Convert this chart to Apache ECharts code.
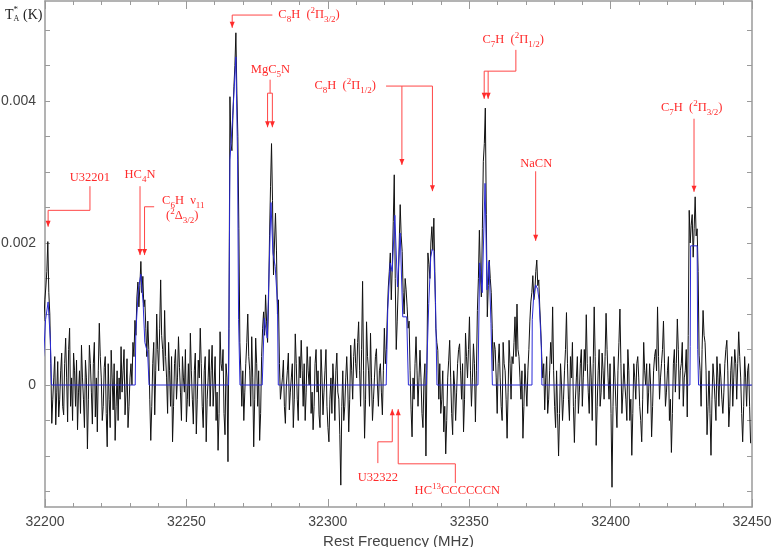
<!DOCTYPE html>
<html><head><meta charset="utf-8">
<script src="https://cdn.jsdelivr.net/npm/echarts@6/dist/echarts.min.js"></script>
<style>html,body{margin:0;padding:0;background:#fff}#c{width:772px;height:547px}</style>
</head><body><div id="c"></div>
<script>
// ---- channel axis (MHz) ----
const FREQ_START = 32199.6;
const FREQ_STEP = 0.35;
// ---- observed antenna temperature, mK, one value per channel ----
const TA_mK = [
 0.9,1.2,1.38,1.6,2.02,1.3,1.0,0.3,-0.54,-0.2,0.1,0.4,-0.56,-0.1,0.33,-0.45,-0.2,0.2,0.45,-0.3,
 -0.42,0.3,0.66,0.1,-0.52,0.5,0.8,-0.3,0.1,-0.5,0.45,0.2,-0.3,0.35,-0.63,-0.1,0.2,-0.4,0.56,0.1,
 -0.2,-0.6,0.35,0.1,-0.9,-0.2,0.56,0.3,-0.1,-0.55,0.3,0.6,-0.45,0.1,-0.66,0.2,0.87,0.4,0.1,-0.5,
 -0.3,0.25,0.4,-0.4,-0.87,0.3,-0.2,-0.6,0.49,0.1,-0.35,0.3,-0.78,-0.3,0.2,-0.5,0.1,-0.2,0.54,-0.1,
 0.2,0.5,-0.42,-0.1,0.37,-0.6,-0.3,0.1,0.3,0.0,0.6,0.4,0.91,0.7,1.24,1.45,1.1,1.4,1.74,1.3,
 1.53,1.1,1.2,0.8,0.4,0.9,0.5,-0.2,-0.78,-0.3,0.3,0.6,-0.42,0.2,1.0,0.5,0.2,0.8,1.48,0.7,
 0.5,0.2,1.05,0.4,0.1,-0.4,0.6,0.2,-0.3,0.4,-0.8,-0.3,0.3,0.5,-0.2,0.1,0.68,0.25,-0.1,-0.5,
 0.4,0.1,-0.1,0.5,-0.52,-0.2,0.3,-0.3,0.73,0.2,-0.2,-0.55,0.2,0.45,-0.69,-0.2,0.35,0.1,0.8,0.3,
 -0.3,-0.6,0.2,0.4,-0.8,-0.2,0.1,0.5,-0.3,0.2,0.56,-0.3,0.0,0.4,-0.5,-0.1,-0.92,-0.4,0.75,0.3,
 0.2,0.5,-0.4,-0.7,0.3,0.1,-1.08,0.8,4.06,3.4,3.3,3.8,4.2,4.5,4.96,4.1,3.5,2.2,0.6,0.2,
 -0.3,0.2,-0.5,-0.1,0.3,0.6,1.0,0.4,0.2,-0.3,0.68,0.1,-0.87,-0.2,0.66,0.3,-0.3,0.2,-0.78,-0.4,
 0.4,0.8,1.03,0.7,1.27,0.9,0.6,1.2,2.1,2.8,3.4,2.6,1.55,2.0,2.42,1.9,1.0,1.2,0.3,-0.2,
 -0.2,0.1,0.35,-0.3,-0.54,0.0,0.2,0.45,-0.35,-0.1,0.1,0.3,-0.6,-0.2,0.72,0.3,-0.2,-0.5,0.4,0.1,
 0.63,0.2,-0.3,0.3,-0.5,-0.1,0.54,0.2,0.0,0.4,-0.4,-0.1,-0.63,-0.3,0.3,0.5,-0.1,0.2,-0.42,-0.6,
 0.5,0.1,-0.42,-0.1,0.2,0.5,-0.3,-0.6,-0.8,-0.2,0.1,-0.4,0.3,0.0,-0.5,0.2,0.45,-0.1,-0.2,-0.7,
 -1.41,-0.3,0.2,-0.5,-0.3,0.1,0.4,0.0,-0.66,-0.2,0.56,0.2,-0.2,0.4,0.65,0.3,0.1,0.6,0.89,0.2,
 -0.3,0.5,1.46,0.2,-0.75,-0.2,0.89,0.4,0.2,-0.3,0.73,0.1,-0.5,-0.2,0.1,0.4,0.51,0.0,-0.3,0.2,
 0.3,-0.1,-0.42,0.2,0.8,0.3,0.5,1.0,1.38,1.6,1.86,1.2,1.67,2.3,2.96,1.5,0.5,0.9,1.38,2.0,
 2.54,2.1,1.88,1.3,1.0,1.5,1.34,1.1,0.8,0.9,0.2,-0.35,-0.73,0.1,-0.2,0.3,0.68,0.2,-0.3,0.1,
 0.49,0.1,-0.4,-0.6,0.07,0.3,-1.0,0.2,1.86,1.7,1.5,2.0,2.23,1.9,2.35,1.6,0.8,0.6,0.49,-0.2,
 0.3,-0.4,-0.2,0.2,-0.66,-0.3,-0.97,-0.5,0.1,0.35,0.63,0.1,-0.4,-0.7,0.2,0.0,-0.5,-0.1,0.3,0.5,
 0.58,0.2,-0.2,0.3,-0.66,-0.2,0.73,0.4,0.1,0.5,0.96,0.2,-0.3,0.1,0.58,0.3,-0.52,0.2,1.05,1.5,
 2.18,1.6,1.24,2.2,3.15,3.4,3.9,2.4,0.96,1.4,1.76,1.5,1.3,0.8,0.2,0.6,0.5,0.1,-0.4,0.3,
 0.58,0.1,-0.3,-0.5,0.6,0.3,0.2,-0.2,-0.75,-0.1,0.63,0.3,-0.2,0.4,0.3,0.6,0.96,0.4,1.14,0.5,
 0.4,0.1,-0.2,0.2,-0.75,-0.3,0.3,0.0,-0.3,0.2,0.5,0.9,1.17,1.3,1.54,1.2,1.3,1.6,1.76,1.4,
 1.48,1.1,0.8,0.4,0.1,0.3,-0.35,0.1,0.4,-0.4,-0.2,0.2,0.6,0.3,1.1,0.2,-0.3,-0.6,0.2,-0.4,
 -1.0,-0.4,0.3,0.0,-0.5,-0.2,0.2,0.5,1.02,0.3,-0.2,-0.5,0.4,0.1,0.6,-0.3,-0.81,-0.2,0.1,0.4,
 -0.4,-0.1,0.3,0.5,-0.3,0.1,0.5,0.2,0.99,0.3,-0.1,-0.4,0.4,0.1,-0.5,0.3,1.1,0.4,-0.85,-0.3,
 0.2,0.5,-0.3,-0.1,0.45,0.2,-0.2,0.4,1.01,0.5,0.1,-0.2,0.3,-0.4,-1.44,-0.3,0.4,0.1,-0.3,-0.6,
 0.2,0.6,1.07,0.3,-0.4,-0.1,0.3,0.0,-0.2,-0.5,0.5,0.2,-0.5,-0.2,-0.99,-0.4,0.3,0.1,-0.2,0.3,
 0.4,0.1,-0.3,-0.5,-0.8,-0.2,0.6,0.2,0.0,0.3,-0.4,-0.1,0.3,0.0,-0.73,-0.3,0.2,0.4,0.5,0.2,
 1.1,0.4,-0.2,0.1,0.3,0.5,0.9,0.3,-0.3,-0.1,0.2,0.4,-0.5,-0.2,-0.95,-0.4,0.3,0.5,-0.1,0.3,
 0.93,0.5,-0.2,0.2,0.3,0.6,-0.3,0.1,0.2,0.5,-0.45,0.7,2.46,2.0,2.25,2.4,1.8,2.2,2.65,2.1,
 2.2,1.6,0.42,0.2,-0.3,0.5,1.05,0.7,0.6,0.2,-0.7,-0.3,0.2,-0.4,-0.99,-0.2,0.3,0.1,-0.2,-0.5,
 0.4,0.1,-0.3,0.3,0.1,-0.2,-0.4,-0.1,0.3,0.5,0.63,0.2,-0.59,-0.3,0.2,0.4,-0.3,0.1,0.5,0.3,
 -0.2,0.3,0.75,0.4,0.1,-0.4,-0.8,-0.3,0.4,0.1,-0.3,0.2,0.3,-0.3,-0.82
];
// ---- fitted model (blue), [MHz, mK] ----
const MODEL_mK = [
 [32199.5,0.4],[32200.2,0.92],[32201.1,1.17],[32201.9,0.63],[32202.3,0],
 [32231.9,0],[32232.1,0.73],[32233.0,1.34],[32233.9,1.56],[32234.7,1.15],[32235.3,0.6],[32236.3,0.45],[32236.8,0],
 [32264.9,0],[32265.4,3.17],[32266.3,3.73],[32267.5,4.62],[32268.1,3.17],[32268.45,0.92],[32268.95,0],
 [32276.8,0],[32277.55,0.94],[32278.6,0.66],[32279.9,2.57],[32280.6,1.86],[32281.4,1.67],[32282.2,1.15],[32282.5,0],
 [32320.65,0],[32321.2,1.06],[32322.06,1.72],[32322.77,1.6],[32323.7,2.39],[32324.65,1.38],[32325.6,2.14],[32326.5,0.96],[32327.9,0.96],[32328.5,0],
 [32334.8,0],[32335.7,1.15],[32336.4,1.8],[32336.9,1.91],[32337.5,1.88],[32338.1,1.15],[32338.6,0],
 [32353.1,0],[32353.7,1.72],[32354.6,1.3],[32355.6,2.84],[32356.3,1.34],[32357.0,1.74],[32357.7,0.87],[32358.2,0],
 [32372.2,0],[32372.3,0.92],[32372.8,1.25],[32373.5,1.41],[32374.2,1.35],[32374.7,1.2],[32375.5,0.54],[32375.7,0],
 [32428.05,0],[32428.15,0.54],[32428.3,1.96],[32430.6,1.96],[32430.8,0.5],[32431.1,0],
 [32450,0]
];
// ---- axes ----
const X_MIN = 32200, X_MAX = 32450, X_STEP = 50;
const Y_MIN = -0.001718, Y_MAX = 0.005408;
const Y_TICKS = [-0.0015,-0.001,-0.0005,0,0.0005,0.001,0.0015,0.002,0.0025,0.003,0.0035,0.004,0.0045,0.005];
const Y_LABELS = [0, 0.002, 0.004];
// ---- line identifications: label anchor and arrow paths in [MHz, mK] ----
const ANNOTATIONS = [
 {text:'C{s|8}H  ({p|2}Π{s|3/2})', at:[32282.5,5.21], align:'left',
  paths:[[[32280.4,5.21],[32266.2,5.21],[32266.2,5.03]]], tips:[[32266.2,5.03,'down']]},
 {text:'MgC{s|5}N', at:[32279.7,4.44], align:'center',
  paths:[[[32279.6,4.30],[32279.6,4.11]],[[32278.7,3.63],[32278.7,4.11],[32280.4,4.11],[32280.4,3.63]]],
  tips:[[32278.7,3.63,'down'],[32280.4,3.63,'down']]},
 {text:'C{s|8}H  ({p|2}Π{s|1/2})', at:[32295.3,4.21], align:'left',
  paths:[[[32320.6,4.21],[32337.0,4.21],[32337.0,2.73]],[[32326.2,4.21],[32326.2,3.10]]],
  tips:[[32337.0,2.73,'down'],[32326.2,3.10,'down']]},
 {text:'C{s|7}H  ({p|2}Π{s|1/2})', at:[32354.7,4.86], align:'left',
  paths:[[[32366.5,4.72],[32366.5,4.42],[32355.3,4.42],[32355.3,4.03]],[[32356.7,4.42],[32356.7,4.03]]],
  tips:[[32355.3,4.03,'down'],[32356.7,4.03,'down']]},
 {text:'C{s|7}H  ({p|2}Π{s|3/2})', at:[32417.8,3.90], align:'left',
  paths:[[[32429.5,3.75],[32429.5,2.72]]], tips:[[32429.5,2.72,'down']]},
 {text:'NaCN', at:[32373.7,3.11], align:'center',
  paths:[[[32373.5,3.01],[32373.5,2.03]]], tips:[[32373.5,2.03,'down']]},
 {text:'U32201', at:[32215.9,2.92], align:'center',
  paths:[[[32215.9,2.80],[32215.9,2.46],[32201.1,2.46],[32201.1,2.23]]], tips:[[32201.1,2.23,'down']]},
 {text:'HC{s|4}N', at:[32233.6,2.96], align:'center',
  paths:[[[32233.6,2.80],[32233.6,1.83]]], tips:[[32233.6,1.83,'down']]},
 {text:'C{s|6}H  ν{s|11}', at:[32241.4,2.59], align:'left',
  paths:[[[32238.6,2.51],[32235.2,2.51],[32235.2,1.83]]], tips:[[32235.2,1.83,'down']]},
 {text:'({p|2}Δ{s|3/2})', at:[32242.8,2.38], align:'left', paths:[], tips:[]},
 {text:'U32322', at:[32317.7,-1.30], align:'center',
  paths:[[[32317.7,-1.10],[32317.7,-0.80],[32322.8,-0.80],[32322.8,-0.34]]], tips:[[32322.8,-0.34,'up']]},
 {text:'HC{p|13}CCCCCCN', at:[32330.7,-1.49], align:'left',
  paths:[[[32345.1,-1.38],[32345.1,-1.11],[32324.9,-1.11],[32324.9,-0.34]]], tips:[[32324.9,-0.34,'up']]}
];

const spectrum = TA_mK.map((v, i) => [FREQ_START + FREQ_STEP * i, v / 1000]);
const model = MODEL_mK.map(p => [p[0], p[1] / 1000]);

const AX = '#9a9a9a';
const tickFont = {color:'#444', fontSize:14, fontFamily:'Liberation Sans, Arial, sans-serif'};
function xAx(pos, labels) {
  return {type:'value', position:pos, min:X_MIN, max:X_MAX, interval:X_STEP,
    axisLine:{show:true, onZero:false, lineStyle:{color:AX, width:1.5}},
    axisTick:{show:true, inside:true, length:8, lineStyle:{color:AX, width:1}},
    minorTick:{show:true, splitNumber:5, length:4, lineStyle:{color:AX, width:1}},
    axisLabel:Object.assign({show:labels, margin:8, formatter: v => String(v)}, tickFont),
    splitLine:{show:false}, minorSplitLine:{show:false},
    name: labels ? 'Rest Frequency (MHz)' : '', nameLocation:'middle', nameGap:23,
    nameTextStyle:{color:'#444', fontSize:15, fontFamily:'Liberation Sans, Arial, sans-serif'}};
}
function yAx(pos, labels) {
  return {type:'value', position:pos, min:Y_MIN, max:Y_MAX,
    axisLine:{show:true, onZero:false, lineStyle:{color:AX, width:1.5}},
    axisTick:{show:true, inside:true, length:5, customValues:Y_TICKS, lineStyle:{color:AX, width:1}},
    axisLabel:Object.assign({show:labels, margin:9, customValues:Y_LABELS,
      formatter: v => (Math.abs(v) < 1e-12 ? '0' : v.toFixed(3))}, tickFont),
    splitLine:{show:false}};
}

const chart = echarts.init(document.getElementById('c'), null, {renderer:'canvas'});
chart.setOption({
  animation:false,
  backgroundColor:'#fff',
  grid:{left:45, right:20, top:1, bottom:40, containLabel:false, outerBoundsMode:'none'},
  xAxis:[xAx('bottom', true), xAx('top', false)],
  yAxis:[yAx('left', true), yAx('right', false)],
  series:[
    {type:'line', data:spectrum, symbol:'none', lineStyle:{color:'#111', width:1}, z:2, silent:true},
    {type:'line', data:model, symbol:'none', lineStyle:{color:'#2a2ad6', width:1}, z:3, silent:true}
  ]
});

// ---- annotations ----
const RED = '#ff2b2b';
const rich = {
  s:{fontSize:9, fill:RED, verticalAlign:'bottom', lineHeight:18, fontFamily:'Liberation Serif, serif'},
  p:{fontSize:9, fill:RED, verticalAlign:'top', lineHeight:18, fontFamily:'Liberation Serif, serif'}
};
const px = (f, mK) => chart.convertToPixel({xAxisIndex:0, yAxisIndex:0}, [f, mK / 1000]);
const g = [];
ANNOTATIONS.forEach(a => {
  const p = px(a.at[0], a.at[1]);
  g.push({type:'text', x:p[0], y:p[1], silent:true, z:10,
    style:{text:a.text, rich:rich, fill:RED, fontSize:12.5, lineHeight:18,
      fontFamily:'Liberation Serif, serif', align:a.align, verticalAlign:'middle'}});
  a.paths.forEach(path => {
    g.push({type:'polyline', silent:true, z:9,
      shape:{points:path.map(q => px(q[0], q[1]))},
      style:{stroke:'#ff4646', lineWidth:1, fill:null}});
  });
  a.tips.forEach(t => {
    const q = px(t[0], t[1]);
    const d = t[2] === 'down' ? -1 : 1;
    g.push({type:'polygon', silent:true, z:9,
      shape:{points:[[q[0], q[1]], [q[0]-2.5, q[1]+d*6], [q[0]+2.5, q[1]+d*6]]},
      style:{fill:RED}});
  });
});
// y-axis title T*_A (K)
const yt = {fill:'#222', fontFamily:'Liberation Serif, serif'};
g.push({type:'text', x:5, y:15, silent:true, style:Object.assign({text:'T', fontSize:14, verticalAlign:'middle'}, yt)});
g.push({type:'text', x:13.5, y:10, silent:true, style:Object.assign({text:'*', fontSize:9, verticalAlign:'middle'}, yt)});
g.push({type:'text', x:13.5, y:19, silent:true, style:Object.assign({text:'A', fontSize:8, verticalAlign:'middle'}, yt)});
g.push({type:'text', x:23, y:15, silent:true, style:Object.assign({text:'(K)', fontSize:14, verticalAlign:'middle'}, yt)});
chart.setOption({graphic:g});
</script></body></html>
